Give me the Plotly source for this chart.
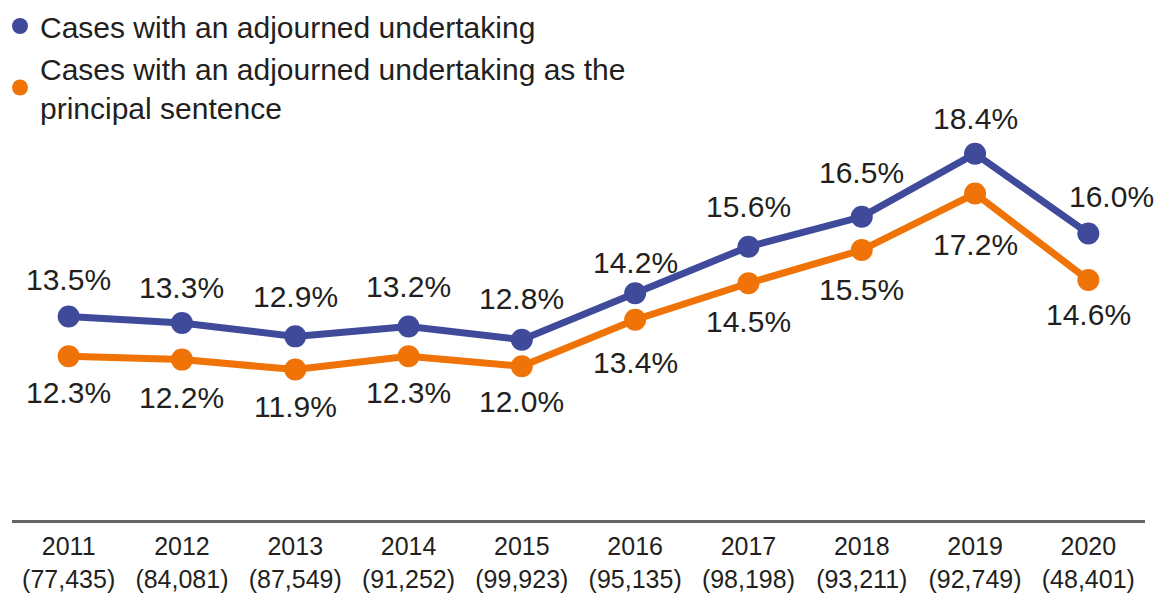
import plotly.graph_objects as go

# Years and the number of cases sentenced in each year
years = ["2011", "2012", "2013", "2014", "2015", "2016", "2017", "2018", "2019", "2020"]
case_counts = ["77,435", "84,081", "87,549", "91,252", "99,923",
               "95,135", "98,198", "93,211", "92,749", "48,401"]

# Share of cases (%) with an adjourned undertaking
any_undertaking = [13.5, 13.3, 12.9, 13.2, 12.8, 14.2, 15.6, 16.5, 18.4, 16.0]
principal_undertaking = [12.3, 12.2, 11.9, 12.3, 12.0, 13.4, 14.5, 15.5, 17.2, 14.6]

series_names = [
    "Cases with an adjourned undertaking",
    "Cases with an adjourned undertaking as the<br>principal sentence",
]

# Label placement (pixels from each point): above the blue line, below the orange one
blue_label_dy = [36, 35, 39, 39, 40, 30, 39, 43, 34, 36]
blue_label_dx = [0, 0, 0, 0, 0, 0, 0, 0, 0, 23]
orange_label_dy = [37, 39, 38, 37, 36, 44, 39, 40, 52, 36]

BLUE = "#3F4A9B"
ORANGE = "#EF7306"
TEXT = "#231F20"
FONT = "Liberation Sans, Arial, sans-serif"

tick_text = [f"{y}<br>({c})" for y, c in zip(years, case_counts)]

fig = go.Figure()

for vals, color in [(any_undertaking, BLUE), (principal_undertaking, ORANGE)]:
    fig.add_trace(go.Scatter(
        x=years, y=vals, mode="lines+markers",
        line=dict(color=color, width=7),
        marker=dict(color=color, size=22),
        showlegend=False, hoverinfo="skip",
    ))

# Legend entries drawn as plain circles
for name, color in [(series_names[0], BLUE), (series_names[1], ORANGE)]:
    fig.add_trace(go.Scatter(
        x=[None], y=[None], mode="markers", name=name,
        marker=dict(color=color, size=22),
    ))

annotations = []
for i, (v, dy, dx) in enumerate(zip(any_undertaking, blue_label_dy, blue_label_dx)):
    annotations.append(dict(x=i, y=v, xref="x", yref="y", text=f"{v:.1f}%",
                            showarrow=False, xanchor="center", yanchor="middle",
                            xshift=dx, yshift=dy + 1,
                            font=dict(size=30, color=TEXT, family=FONT)))
for i, (v, dy) in enumerate(zip(principal_undertaking, orange_label_dy)):
    annotations.append(dict(x=i, y=v, xref="x", yref="y", text=f"{v:.1f}%",
                            showarrow=False, xanchor="center", yanchor="middle",
                            yshift=-dy + 1,
                            font=dict(size=30, color=TEXT, family=FONT)))

fig.update_layout(
    width=1158, height=594,
    margin=dict(l=12, r=13, t=0, b=74, autoexpand=False),
    paper_bgcolor="white", plot_bgcolor="white",
    font=dict(family=FONT, color=TEXT),
    annotations=annotations,
    legend=dict(
        x=0, y=1, xref="container", yref="container",
        xanchor="left", yanchor="top",
        bgcolor="rgba(0,0,0,0)", borderwidth=0,
        font=dict(size=30, color=TEXT, family=FONT),
        itemclick=False, itemdoubleclick=False,
        tracegroupgap=0,
    ),
    xaxis=dict(
        type="category", range=[-0.5, 9.5],
        tickmode="array", tickvals=years, ticktext=tick_text, tickangle=0,
        showline=True, linecolor="#666666", linewidth=3,
        showgrid=False, zeroline=False, ticks="", ticklabelstandoff=2,
        tickfont=dict(size=25, color=TEXT, family=FONT),
        fixedrange=True,
    ),
    yaxis=dict(
        range=[7.37, 23.03], visible=False, showgrid=False,
        zeroline=False, fixedrange=True,
    ),
)

fig.write_html("out.html", config={"displayModeBar": False})
